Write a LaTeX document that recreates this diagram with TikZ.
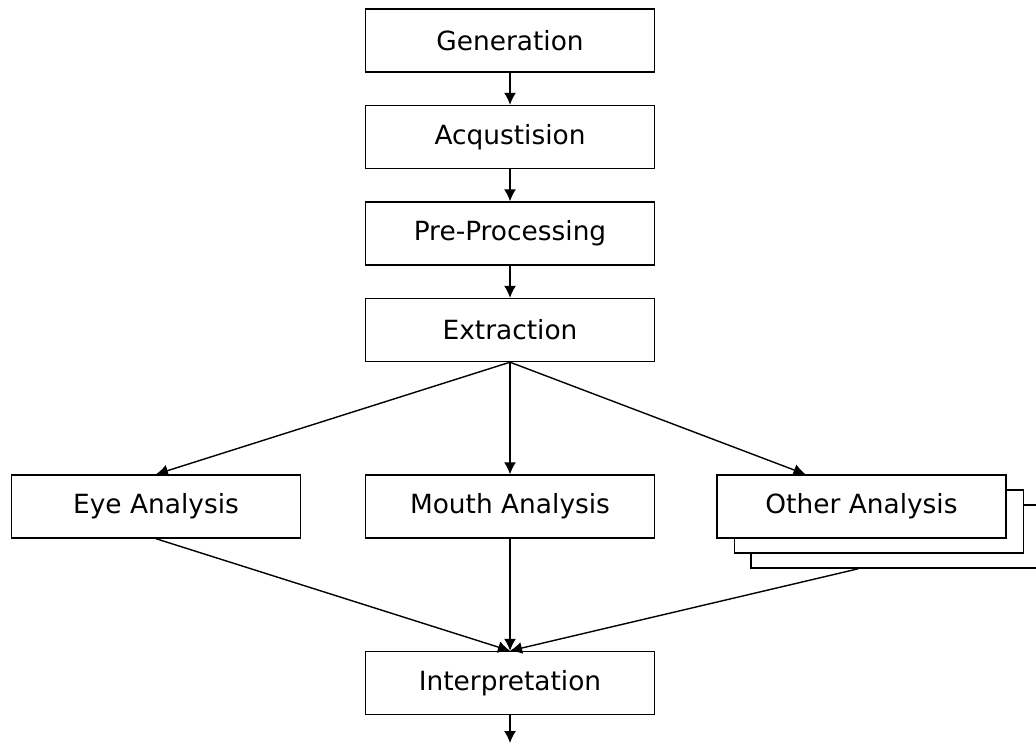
\documentclass[tikz,border=0pt]{standalone}
\usepackage{fontspec}
\setmainfont{DejaVu Sans}
\usetikzlibrary{arrows.meta}

\begin{document}
\begin{tikzpicture}[>={Latex[length=6pt,width=6pt]}, x=1pt, y=1pt, line width=0.7pt,
  box/.style={draw, fill=white, minimum width=144.5pt, minimum height=31.5pt, font=\fontsize{13.2}{15}\selectfont},
  node distance=48.25pt]
\useasboundingbox (0,0) rectangle (518,-372);
\node[box, name=generation] at (255,-20.25) {Generation};
\node[box, name=acquisition, below of=generation]{Acqustision};
\node[box, name=preprocessing, below of=acquisition]{Pre-Processing};
\node[box, name=extraction, below of=preprocessing]{Extraction};
\node[box, name=mouth, node distance=88.25pt, below of=extraction]{Mouth Analysis};
\node[box, name=eye, node distance=177pt, left of=mouth]{Eye Analysis};
\coordinate[node distance=175.75pt, right of=mouth] (other_pos);
\node[box, name=other_3] at ([shift={(17,-15)}]other_pos) {};
\node[box, name=other_2] at ([shift={(8.75,-7.5)}]other_pos) {};
\node[box, name=other] at (other_pos) {Other Analysis};
\node[box, name=interpretation, node distance=88.25pt, below of=mouth]{Interpretation};
\coordinate[node distance=30pt, below of=interpretation] (output);

\draw(generation.south) edge[->](acquisition.north);
\draw(acquisition.south) edge[->](preprocessing.north);
\draw(preprocessing.south) edge[->](extraction.north);
\draw(extraction.south) edge[->](eye.north);
\draw(extraction.south) edge[->](mouth.north);
\draw(extraction.south) edge[->]([xshift=-28pt]other.north);
\draw(eye.south) edge[->](interpretation.north);
\draw(mouth.south) edge[->](interpretation.north);
\draw([xshift=-18.5pt]other_3.south) edge[->](interpretation.north);
\draw(interpretation.south) edge[->](output);
\end{tikzpicture}
\end{document}
